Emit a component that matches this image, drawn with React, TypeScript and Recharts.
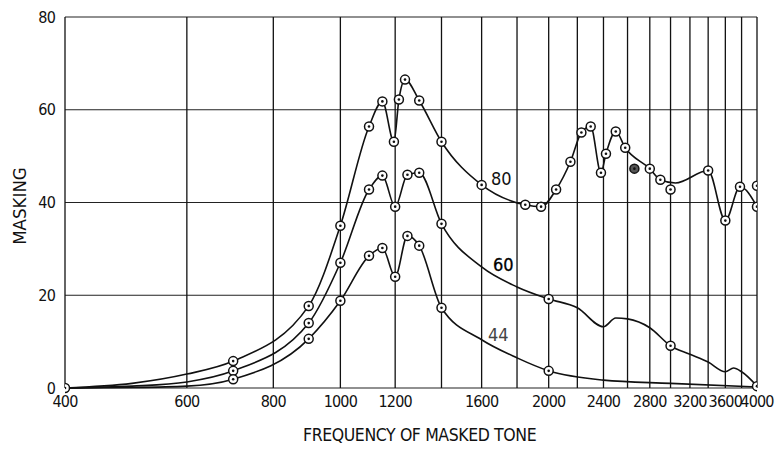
import React from 'react';
import { ComposedChart, Line, Scatter, XAxis, YAxis, CartesianGrid, ReferenceLine } from 'recharts';

// frequency (Hz), masking (dB); m = a measured point drawn with a marker
const curve80 = [
  { f: 400, v: 0, m: 1 }, { f: 500, v: 1.0 }, { f: 600, v: 3.0 }, { f: 700, v: 5.8, m: 1 },
  { f: 900, v: 17.7, m: 1 }, { f: 1000, v: 35.0, m: 1 }, { f: 1100, v: 56.4, m: 1 },
  { f: 1150, v: 61.8, m: 1 }, { f: 1195, v: 53.1, m: 1 }, { f: 1215, v: 62.2, m: 1 },
  { f: 1240, v: 66.5, m: 1 }, { f: 1300, v: 62.0, m: 1 }, { f: 1400, v: 53.1, m: 1 },
  { f: 1600, v: 43.8, m: 1 }, { f: 1850, v: 39.5, m: 1 }, { f: 1950, v: 39.1, m: 1 },
  { f: 2050, v: 42.8, m: 1 }, { f: 2150, v: 48.8, m: 1 }, { f: 2230, v: 55.1, m: 1 },
  { f: 2300, v: 56.4, m: 1 }, { f: 2380, v: 46.4, m: 1 }, { f: 2420, v: 50.5, m: 1 },
  { f: 2500, v: 55.3, m: 1 }, { f: 2580, v: 51.8, m: 1 }, { f: 2800, v: 47.3, m: 1 },
  { f: 2900, v: 44.9, m: 1 }, { f: 3050, v: 44.2 }, { f: 3400, v: 46.9, m: 1 },
  { f: 3600, v: 36.1, m: 1 }, { f: 3780, v: 43.4, m: 1 }, { f: 4000, v: 39.1, m: 1 },
];

const curve60 = [
  { f: 400, v: 0 }, { f: 500, v: 0.4 }, { f: 600, v: 1.3 }, { f: 700, v: 3.7, m: 1 },
  { f: 900, v: 14.0, m: 1 }, { f: 1000, v: 27.0, m: 1 }, { f: 1100, v: 42.8, m: 1 },
  { f: 1150, v: 45.8, m: 1 }, { f: 1200, v: 39.1, m: 1 }, { f: 1250, v: 46.0, m: 1 },
  { f: 1300, v: 46.4, m: 1 }, { f: 1400, v: 35.4, m: 1 }, { f: 1600, v: 26.1 },
  { f: 1800, v: 21.8 }, { f: 2000, v: 19.2, m: 1 }, { f: 2200, v: 17.3 }, { f: 2400, v: 13.2 },
  { f: 2500, v: 15.1 }, { f: 2600, v: 14.9 }, { f: 2800, v: 13.0 }, { f: 3000, v: 9.1, m: 1 },
  { f: 3200, v: 7.3 }, { f: 3400, v: 5.6 }, { f: 3600, v: 3.5 }, { f: 3700, v: 4.3 },
  { f: 3800, v: 3.5 }, { f: 4000, v: 0.4, m: 1 },
];

const curve44 = [
  { f: 400, v: 0 }, { f: 500, v: 0.1 }, { f: 600, v: 0.4 }, { f: 700, v: 1.9, m: 1 },
  { f: 900, v: 10.6, m: 1 }, { f: 1000, v: 18.8, m: 1 }, { f: 1100, v: 28.5, m: 1 },
  { f: 1150, v: 30.2, m: 1 }, { f: 1200, v: 24.0, m: 1 }, { f: 1250, v: 32.8, m: 1 },
  { f: 1300, v: 30.7, m: 1 }, { f: 1400, v: 17.3, m: 1 }, { f: 1600, v: 10.4 },
  { f: 1800, v: 6.5 }, { f: 2000, v: 3.7, m: 1 }, { f: 2400, v: 1.7 }, { f: 3000, v: 1.0 },
  { f: 4000, v: 0.2 },
];

// stray points not on a curve
const loosePoints = [
  { f: 2660, v: 47.3, dark: 1 },
  { f: 3000, v: 42.8 },
  { f: 4000, v: 43.6 },
];

const xTicks = [400, 600, 800, 1000, 1200, 1600, 2000, 2400, 2800, 3200, 3600, 4000];
const xGrid = [400, 600, 800, 1000, 1200, 1400, 1600, 1800, 2000, 2200, 2400, 2600, 2800, 3000, 3200, 3400, 3600, 3800, 4000];
const yTicks = [0, 20, 40, 60, 80];

const font = '"DejaVu Sans Condensed", "DejaVu Sans", sans-serif';

const Marker = (props: any) => {
  const { cx, cy, payload, index } = props;
  if (!payload || !payload.m || cx == null) return <g key={`n-${index}`} />;
  return (
    <g key={`d-${index}-${cx}`}>
      <circle cx={cx} cy={cy} r={4.5} fill="#fff" stroke="#111" strokeWidth={1.5} />
      <circle cx={cx} cy={cy} r={1.3} fill="#111" />
    </g>
  );
};

const LooseMarker = (props: any) => {
  const { cx, cy, payload } = props;
  return (
    <g>
      <circle cx={cx} cy={cy} r={4.5} fill={payload.dark ? '#555' : '#fff'} stroke="#111" strokeWidth={1.5} />
      <circle cx={cx} cy={cy} r={1.3} fill="#111" />
    </g>
  );
};

const tickStyle = { fontFamily: font, fontStretch: 'condensed', fontSize: 16, fill: '#111', letterSpacing: -0.8 };

const App: React.FC = () => (
  <div style={{ position: 'absolute', left: 0, top: 0, width: 778, height: 449, background: '#fff' }}>
    <ComposedChart width={778} height={449} margin={{ top: 17, right: 21, left: 0, bottom: 31 }}>
      <CartesianGrid vertical={false} stroke="#222" strokeWidth={1.1} />
      {xGrid.map((g) => (
        <ReferenceLine key={g} x={g} stroke="#111" strokeWidth={1.3} />
      ))}
      <XAxis
        dataKey="f"
        type="number"
        scale="log"
        domain={[400, 4000]}
        ticks={xTicks}
        allowDataOverflow
        axisLine={false}
        tickLine={false}
        tickSize={0}
        tickMargin={8}
        height={30}
        tick={tickStyle}
        interval={0}
      />
      <YAxis
        type="number"
        domain={[0, 80]}
        ticks={yTicks}
        axisLine={false}
        tickLine={false}
        tickSize={0}
        tickMargin={10}
        width={65}
        tick={tickStyle}
      />
      <Line data={curve80} dataKey="v" type="monotone" stroke="#111" strokeWidth={1.6} dot={Marker} activeDot={false} isAnimationActive={false} />
      <Line data={curve60} dataKey="v" type="monotone" stroke="#111" strokeWidth={1.6} dot={Marker} activeDot={false} isAnimationActive={false} />
      <Line data={curve44} dataKey="v" type="monotone" stroke="#111" strokeWidth={1.6} dot={Marker} activeDot={false} isAnimationActive={false} />
      <Scatter data={loosePoints} dataKey="v" shape={LooseMarker} isAnimationActive={false} />
    </ComposedChart>

    <div style={{ position: 'absolute', left: 491, top: 168, fontFamily: font, fontStretch: 'condensed', fontSize: 18, color: '#111' }}>80</div>
    <div style={{ position: 'absolute', left: 493, top: 254, fontFamily: font, fontStretch: 'condensed', fontSize: 18, color: '#000', WebkitTextStroke: '0.3px #000' }}>60</div>
    <div style={{ position: 'absolute', left: 488, top: 324, fontFamily: font, fontStretch: 'condensed', fontSize: 18, color: '#444' }}>44</div>

    <div
      style={{
        position: 'absolute', left: 19, top: 206, transform: 'translate(-50%, -50%) rotate(-90deg)',
        fontFamily: font, fontStretch: 'condensed', fontSize: 18.5, color: '#111', whiteSpace: 'nowrap',
      }}
    >
      MASKING
    </div>
    <div style={{ position: 'absolute', left: 303, top: 425, fontFamily: font, fontStretch: 'condensed', fontSize: 17.5, color: '#111', whiteSpace: 'nowrap', letterSpacing: -0.4 }}>
      FREQUENCY OF MASKED TONE
    </div>
  </div>
);

export default App;
